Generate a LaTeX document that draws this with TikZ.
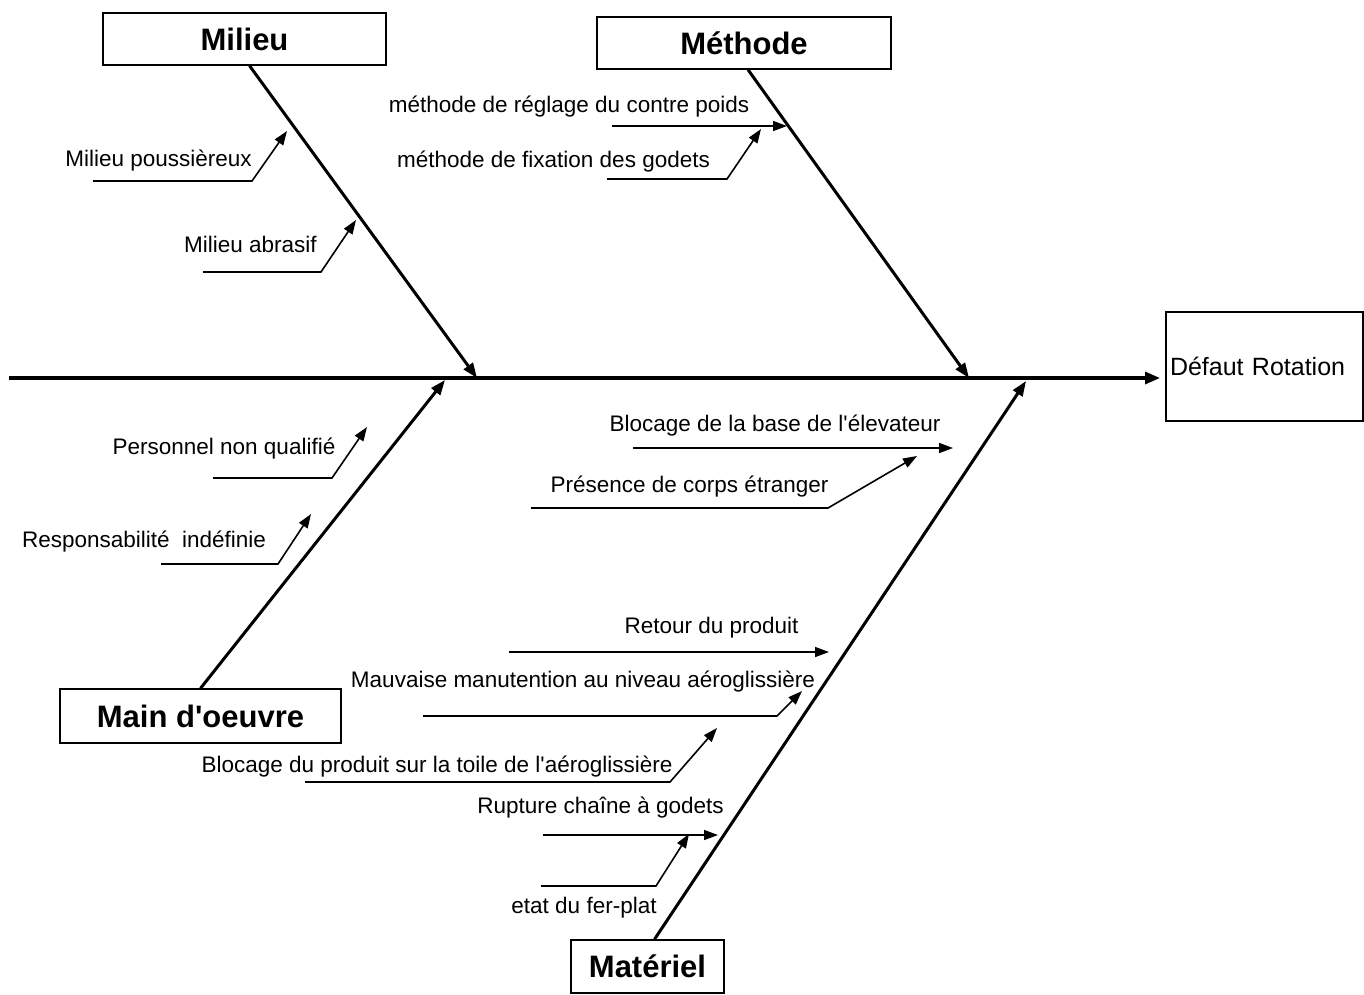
\documentclass[tikz,border=0pt]{standalone}
\usepackage{fontspec}
\setmainfont{Liberation Sans}
\usetikzlibrary{arrows.meta}
\tikzset{
  catbox/.style={draw, line width=1.4pt, inner sep=0pt, font=\fontsize{31}{37}\selectfont\bfseries},
  lbl/.style={inner sep=0pt, anchor=base, font=\fontsize{22.5}{27}\selectfont},
  bone/.style={line width=3pt, -{Triangle[length=15pt,width=11pt]}},
  spine/.style={line width=3.2pt, -{Triangle[length=15pt,width=12pt]}},
  twig/.style={line width=1.6pt, -{Triangle[length=14pt,width=10pt]}}
}
\begin{document}
\begin{tikzpicture}[x=1pt,y=-1pt]
\useasboundingbox (0,0) rectangle (1364,994);

% category boxes
\node[catbox, minimum width=283pt, minimum height=52pt] (milieu) at (244.5,39) {Milieu};
\node[catbox, minimum width=294pt, minimum height=52pt] (methode) at (744,43) {Méthode};
\node[catbox, minimum width=281pt, minimum height=54pt] (main) at (200.5,716) {Main d\textquotesingle oeuvre};
\node[catbox, minimum width=153pt, minimum height=53pt] (materiel) at (647.5,966.5) {Matériel};
\node[draw, line width=1.4pt, minimum width=197pt, minimum height=109pt, text width=189pt, align=left, inner sep=4pt, font=\fontsize{25}{30}\selectfont] (effet) at (1264.5,366.5) {Défaut Rotation};

% spine
\coordinate (tail) at (9,378);
\coordinate (head) at (1160,378);
\draw[spine] (tail) -- (head);

% bones
\coordinate (t1) at (477,378);
\coordinate (t2) at (969,378);
\coordinate (t3) at (445,380);
\coordinate (t4) at (1026,381);
\draw[bone] ([xshift=5pt]milieu.south) -- (t1);
\draw[bone] ([xshift=4pt]methode.south) -- (t2);
\draw[bone] (main.north) -- (t3);
\draw[bone] ([xshift=7pt]materiel.north) -- (t4);

% labels
\node[lbl] (l1) at (158.5,166) {Milieu poussièreux};
\node[lbl] (l2) at (250.5,252) {Milieu abrasif};
\node[lbl] (l3) at (569,112) {méthode de réglage du contre poids};
\node[lbl] (l4) at (553.5,167) {méthode de fixation des godets};
\node[lbl] (l5) at (224,454) {Personnel non qualifié};
\node[lbl] (l6) at (144,547) {Responsabilité\ \ indéfinie};
\node[lbl] (l7) at (775,431) {Blocage de la base de l\textquotesingle élevateur};
\node[lbl] (l8) at (689.5,492) {Présence de corps étranger};
\node[lbl] (l9) at (711.5,633) {Retour du produit};
\node[lbl] (l10) at (583,687) {Mauvaise manutention au niveau aéroglissière};
\node[lbl] (l11) at (437,772) {Blocage du produit sur la toile de l\textquotesingle aéroglissière};
\node[lbl] (l12) at (600.5,813) {Rupture chaîne à godets};
\node[lbl] (l13) at (584,913) {etat du fer-plat};

% sub-cause arrows
\coordinate (a1s) at (93,181);  \coordinate (a1k) at (252,181); \coordinate (a1t) at (287,131);
\draw[twig] (a1s) -- (a1k) -- (a1t);
\coordinate (a2s) at (203,272); \coordinate (a2k) at (321,272); \coordinate (a2t) at (356,220);
\draw[twig] (a2s) -- (a2k) -- (a2t);
\coordinate (a3s) at (612,126); \coordinate (a3t) at (787,126);
\draw[twig] (a3s) -- (a3t);
\coordinate (a4s) at (607,179); \coordinate (a4k) at (727,179); \coordinate (a4t) at (761,129);
\draw[twig] (a4s) -- (a4k) -- (a4t);
\coordinate (a5s) at (213,478); \coordinate (a5k) at (332,478); \coordinate (a5t) at (367,427);
\draw[twig] (a5s) -- (a5k) -- (a5t);
\coordinate (a6s) at (161,564); \coordinate (a6k) at (278,564); \coordinate (a6t) at (311,514);
\draw[twig] (a6s) -- (a6k) -- (a6t);
\coordinate (a7s) at (633,448); \coordinate (a7t) at (953,448);
\draw[twig] (a7s) -- (a7t);
\coordinate (a8s) at (531,508); \coordinate (a8k) at (828,508); \coordinate (a8t) at (917,456);
\draw[twig] (a8s) -- (a8k) -- (a8t);
\coordinate (a9s) at (509,652); \coordinate (a9t) at (829,652);
\draw[twig] (a9s) -- (a9t);
\coordinate (a10s) at (423,716); \coordinate (a10k) at (777,716); \coordinate (a10t) at (802,691);
\draw[twig] (a10s) -- (a10k) -- (a10t);
\coordinate (a11s) at (305,782); \coordinate (a11k) at (670,782); \coordinate (a11t) at (717,728);
\draw[twig] (a11s) -- (a11k) -- (a11t);
\coordinate (a12s) at (543,835); \coordinate (a12t) at (718,835);
\draw[twig] (a12s) -- (a12t);
\coordinate (a13s) at (541,886); \coordinate (a13k) at (656,886); \coordinate (a13t) at (689,834);
\draw[twig] (a13s) -- (a13k) -- (a13t);
\end{tikzpicture}
\end{document}
